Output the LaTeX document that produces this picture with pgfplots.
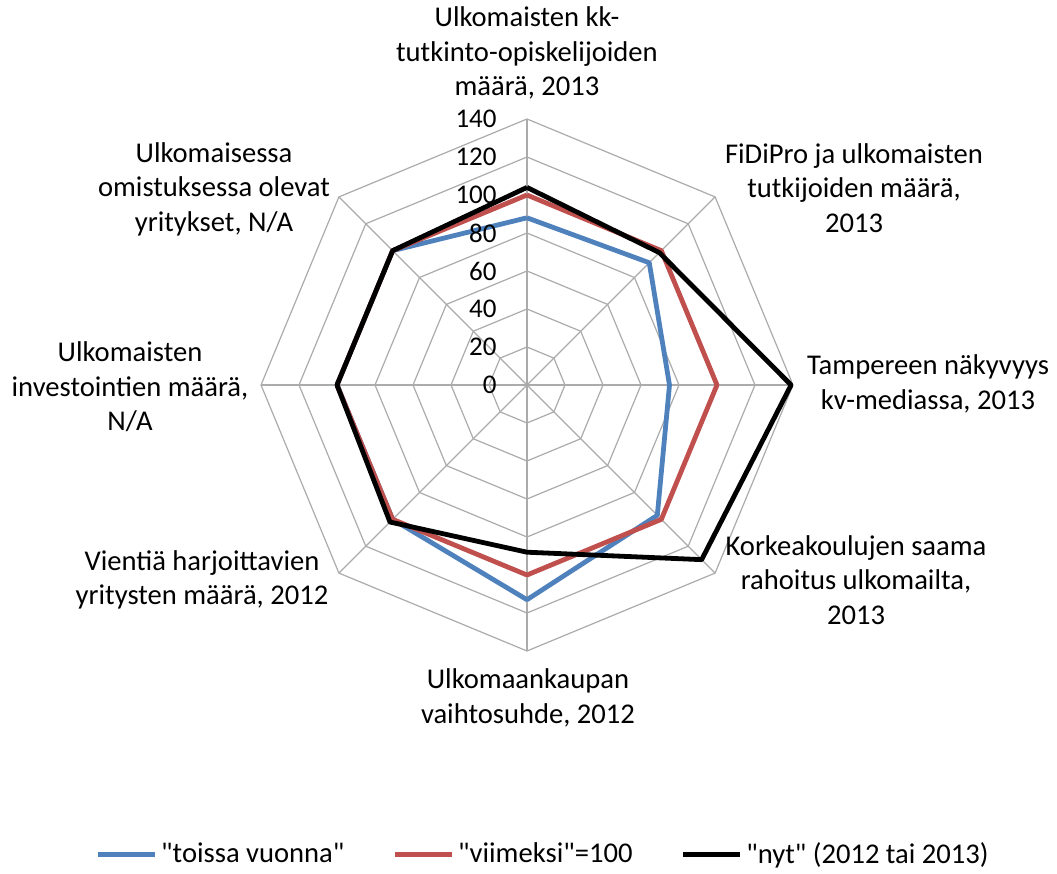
\documentclass[border=0pt]{standalone}
\usepackage{fontspec}
\setmainfont{Carlito}[Ligatures=TeXOff]
\usepackage{pgfplots}
\pgfplotsset{compat=1.18}
\definecolor{sblue}{HTML}{4F81BD}
\definecolor{sred}{HTML}{C0504D}
\definecolor{gridc}{HTML}{ABABAB}
\begin{document}
\begin{tikzpicture}[font=\fontsize{14.3pt}{17.25pt}\selectfont]
\useasboundingbox (0,0) rectangle (528.5pt,437pt);
\begin{axis}[
  at={(263.5pt,244.5pt)}, anchor=center,
  x=0.95pt, y=0.95pt,
  xmin=-140, xmax=140, ymin=-140, ymax=140,
  hide axis, clip=false,
  gridline/.style={gridc, line width=0.6pt, data cs=polar, forget plot},
  series/.style={line width=2.4pt, data cs=polar, line join=round},
  legend columns=3,
  legend style={at={(0.532,-0.382)}, anchor=center, draw=none,
    font=\fontsize{14.3pt}{17.25pt}\selectfont,
    /tikz/every even column/.append style={column sep=22pt},
    nodes={inner sep=2pt}},
  legend image code/.code={\draw[#1] (0pt,0pt) -- (28.5pt,0pt);},
]
% octagonal grid rings
\addplot[gridline] coordinates {(90,20)(45,20)(0,20)(-45,20)(-90,20)(-135,20)(180,20)(135,20)(90,20)};
\addplot[gridline] coordinates {(90,40)(45,40)(0,40)(-45,40)(-90,40)(-135,40)(180,40)(135,40)(90,40)};
\addplot[gridline] coordinates {(90,60)(45,60)(0,60)(-45,60)(-90,60)(-135,60)(180,60)(135,60)(90,60)};
\addplot[gridline] coordinates {(90,80)(45,80)(0,80)(-45,80)(-90,80)(-135,80)(180,80)(135,80)(90,80)};
\addplot[gridline] coordinates {(90,100)(45,100)(0,100)(-45,100)(-90,100)(-135,100)(180,100)(135,100)(90,100)};
\addplot[gridline] coordinates {(90,120)(45,120)(0,120)(-45,120)(-90,120)(-135,120)(180,120)(135,120)(90,120)};
\addplot[gridline] coordinates {(90,140)(45,140)(0,140)(-45,140)(-90,140)(-135,140)(180,140)(135,140)(90,140)};
% spokes
\addplot[gridline] coordinates {(90,140)(270,140)};
\addplot[gridline] coordinates {(45,140)(225,140)};
\addplot[gridline] coordinates {(0,140)(180,140)};
\addplot[gridline] coordinates {(-45,140)(135,140)};
% series
\addplot[series, sblue] coordinates {(90,88)(45,91)(0,75)(-45,97)(-90,113)(-135,100)(180,100)(135,100)(90,88)};
\addlegendentry{"toissa vuonna"}
\addplot[series, sred] coordinates {(90,100)(45,100)(0,100)(-45,100)(-90,100)(-135,100)(180,100)(135,100)(90,100)};
\addlegendentry{"viimeksi"=100}
\addplot[series, black] coordinates {(90,104)(45,98.5)(0,139)(-45,130)(-90,88)(-135,102)(180,100)(135,100)(90,104)};
\addlegendentry{"nyt" (2012 tai 2013)}
% radial value labels
\begin{scope}[font=\fontsize{13.5pt}{17.25pt}\selectfont]
\node[anchor=east, inner sep=0pt] at (axis cs:-15.8,0) {0};
\node[anchor=east, inner sep=0pt] at (axis cs:-15.8,20) {20};
\node[anchor=east, inner sep=0pt] at (axis cs:-15.8,40) {40};
\node[anchor=east, inner sep=0pt] at (axis cs:-15.8,60) {60};
\node[anchor=east, inner sep=0pt] at (axis cs:-15.8,80) {80};
\node[anchor=east, inner sep=0pt] at (axis cs:-15.8,100) {100};
\node[anchor=east, inner sep=0pt] at (axis cs:-15.8,120) {120};
\node[anchor=east, inner sep=0pt] at (axis cs:-15.8,140) {140};
\end{scope}
\end{axis}
% category labels
\node[align=center, inner sep=0pt] at (263.5pt,410.5pt) {Ulkomaisten kk-\\tutkinto-opiskelijoiden\\määrä, 2013};
\node[align=center, inner sep=0pt] at (427pt,343pt) {FiDiPro ja ulkomaisten\\tutkijoiden määrä,\\2013};
\node[align=center, inner sep=0pt] at (464pt,245pt) {Tampereen näkyvyys\\kv-mediassa, 2013};
\node[align=center, inner sep=0pt] at (428pt,147pt) {Korkeakoulujen saama\\rahoitus ulkomailta,\\2013};
\node[align=center, inner sep=0pt] at (264pt,88pt) {Ulkomaankaupan\\vaihtosuhde, 2012};
\node[align=center, inner sep=0pt] at (101pt,147pt) {Vientiä harjoittavien\\yritysten määrä, 2012};
\node[align=center, inner sep=0pt] at (65pt,243.5pt) {Ulkomaisten\\investointien määrä,\\N/A};
\node[align=center, inner sep=0pt] at (107pt,342.5pt) {Ulkomaisessa\\omistuksessa olevat\\yritykset, N/A};
\end{tikzpicture}
\end{document}
